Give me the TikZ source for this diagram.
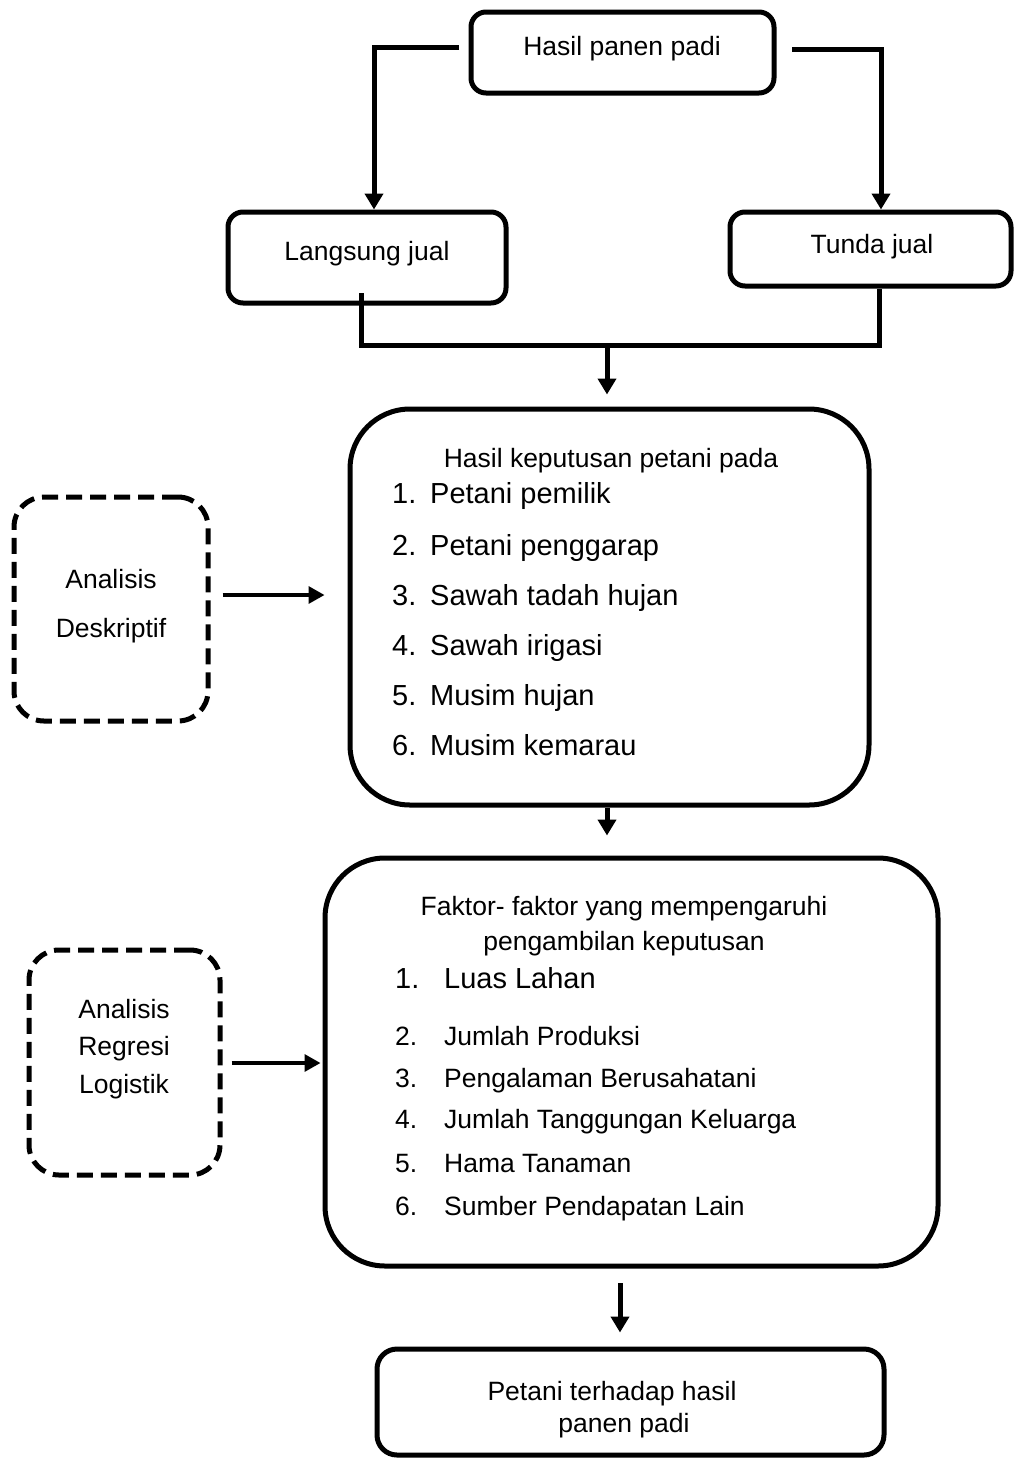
\documentclass[tikz,border=0pt]{standalone}
\usepackage{fontspec}
\setmainfont{Liberation Sans}
\usetikzlibrary{arrows.meta}
\begin{document}
\begin{tikzpicture}[x=1pt,y=-1pt,
  box/.style={draw, line width=5pt, rounded corners=#1, inner sep=0pt},
  box/.default=15pt,
  dbox/.style={draw, line width=5pt, rounded corners=30pt, inner sep=0pt, dash pattern=on 16pt off 8pt},
  conn/.style={line width=5pt},
  arr/.style={line width=5pt, -{Triangle[width=18pt,length=16pt]}},
  tarr/.style={line width=3.3pt, -{Triangle[width=17pt,length=16pt]}},
  txt/.style={inner sep=0pt, anchor=base, font=\fontsize{26.5pt}{30pt}\selectfont},
  itm/.style={inner sep=0pt, anchor=base west, font=\fontsize{29pt}{33pt}\selectfont},
  itms/.style={inner sep=0pt, anchor=base west, font=\fontsize{26.5pt}{30pt}\selectfont}]
\useasboundingbox (0,0) rectangle (1013,1460);

% boxes
\node[box, minimum width=303pt, minimum height=81pt] (A) at (622.5,52.5) {};
\node[box, minimum width=278pt, minimum height=91pt] (B) at (367,257.5) {};
\node[box, minimum width=281pt, minimum height=74pt] (C) at (870.5,249) {};
\node[box=60pt, minimum width=519pt, minimum height=396pt] (D) at (609.5,607) {};
\node[dbox, minimum width=194pt, minimum height=224pt] (E) at (111,609) {};
\node[box=60pt, minimum width=613pt, minimum height=408pt] (F) at (631.5,1062) {};
\node[dbox, minimum width=191pt, minimum height=225pt] (G) at (124.5,1062.5) {};
\node[box=20pt, minimum width=507pt, minimum height=106pt] (H) at (630.5,1402) {};

% texts
\node[txt] (tA) at (622,55) {Hasil panen padi};
\node[txt] (tB) at (367,260) {Langsung jual};
\node[txt] (tC) at (872,253) {Tunda jual};
\node[txt] (tD) at (611,467) {Hasil keputusan petani pada};
\node[itm] (d1) at (392,503) {\makebox[38pt][l]{1.}Petani pemilik};
\node[itm] (d2) at (392,555) {\makebox[38pt][l]{2.}Petani penggarap};
\node[itm] (d3) at (392,605) {\makebox[38pt][l]{3.}Sawah tadah hujan};
\node[itm] (d4) at (392,655) {\makebox[38pt][l]{4.}Sawah irigasi};
\node[itm] (d5) at (392,705) {\makebox[38pt][l]{5.}Musim hujan};
\node[itm] (d6) at (392,755) {\makebox[38pt][l]{6.}Musim kemarau};
\node[txt] (e1) at (111,588) {Analisis};
\node[txt] (e2) at (111,637) {Deskriptif};
\node[txt] (tF1) at (624,915) {Faktor- faktor yang mempengaruhi};
\node[txt] (tF2) at (624,950) {pengambilan keputusan};
\node[itm] (f1) at (395,988) {\makebox[49pt][l]{1.}Luas Lahan};
\node[itms] (f2) at (395,1045) {\makebox[49pt][l]{2.}Jumlah Produksi};
\node[itms] (f3) at (395,1087) {\makebox[49pt][l]{3.}Pengalaman Berusahatani};
\node[itms] (f4) at (395,1128) {\makebox[49pt][l]{4.}Jumlah Tanggungan Keluarga};
\node[itms] (f5) at (395,1172) {\makebox[49pt][l]{5.}Hama Tanaman};
\node[itms] (f6) at (395,1215) {\makebox[49pt][l]{6.}Sumber Pendapatan Lain};
\node[txt] (g1) at (124,1018) {Analisis};
\node[txt] (g2) at (124,1055) {Regresi};
\node[txt] (g3) at (124,1093) {Logistik};
\node[txt] (h1) at (612,1400) {Petani terhadap hasil};
\node[txt] (h2) at (624,1432) {panen padi};

% connectors
\coordinate (a1) at (459,47);
\coordinate (a2) at (792,49);
\draw[arr] (a1) -| ([xshift=7pt]B.north);
\draw[arr] (a2) -| ([xshift=10.5pt]C.north);
\coordinate (b1) at (361,293);
\coordinate (j) at (607,345);
\draw[conn] (b1) |- (j) -| ([xshift=8.5pt]C.south);
\draw[arr, shorten >=12pt] (j) -- (j |- D.north);
\draw[arr, shorten >=20pt] ([xshift=-2.5pt]D.south) -- ([xshift=-2.5pt]D.south |- F.north);
\draw[tarr, shorten <=12pt, shorten >=23pt] ([yshift=14pt]E.east) -- ([yshift=14pt]E.east -| D.west);
\draw[tarr, shorten <=9pt, shorten >=2pt] ([yshift=-0.5pt]G.east) -- ([yshift=-0.5pt]G.east -| F.west);
\coordinate (fb) at (620,1283);
\draw[arr, shorten >=14pt] (fb) -- (fb |- H.north);
\end{tikzpicture}
\end{document}
